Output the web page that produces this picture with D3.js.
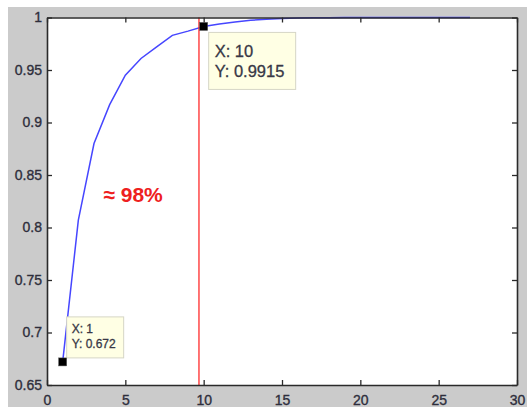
<!DOCTYPE html>
<html>
<head>
<meta charset="utf-8">
<script src="https://cdn.jsdelivr.net/npm/d3@7"></script>
<style>
  html, body { margin: 0; padding: 0; background: #fff; }
  svg { display: block; }
  text { font-family: "Liberation Sans", Arial, sans-serif; }
</style>
</head>
<body>
<script>
// Number of retained components vs. cumulative explained variance
const components = [1, 2, 3, 4, 5, 6, 7, 8, 9, 10, 11, 12, 13, 14, 15, 16, 17, 18, 19, 20, 21, 22, 23, 24, 25, 26, 27];
const cumulative = [0.672, 0.807, 0.880, 0.917, 0.945, 0.961, 0.972, 0.983, 0.987, 0.9915,
                    0.9938, 0.9958, 0.9973, 0.9984, 0.9991, 0.9995, 0.9997, 0.9998, 0.9999, 0.9999,
                    1, 1, 1, 1, 1, 1, 1];
const xTicks = [0, 5, 10, 15, 20, 25, 30];
const yTicks = [0.65, 0.7, 0.75, 0.8, 0.85, 0.9, 0.95, 1];
const cutoff = 9.7;
const tips = [
  { x: 1, y: 0.672, lines: ["X: 1", "Y: 0.672"] },
  { x: 10, y: 0.9915, lines: ["X: 10", "Y: 0.9915"] }
];
const note = "≈ 98%";

const W = 527, H = 407;
const svg = d3.select("body").append("svg").attr("width", W).attr("height", H);

// figure background
svg.append("rect").attr("x", 8).attr("y", 7).attr("width", W - 8).attr("height", H - 7).attr("fill", "#cbcbcb");

const x = d3.scaleLinear().domain([0, 30]).range([47, 517]);
const y = d3.scaleLinear().domain([0.65, 1]).range([385, 17.5]);

// axes area
svg.append("rect").attr("x", x(0)).attr("y", y(1)).attr("width", x(30) - x(0)).attr("height", y(0.65) - y(1)).attr("fill", "#fff");

// curve
const line = d3.line().x((d, i) => x(components[i])).y(d => y(d));
svg.append("path").datum(cumulative).attr("d", line)
  .attr("fill", "none").attr("stroke", "#4646ff").attr("stroke-width", 1.5);

// cutoff marker
svg.append("line").attr("x1", x(cutoff)).attr("x2", x(cutoff)).attr("y1", y(1)).attr("y2", y(0.65))
  .attr("stroke", "#ff2a2a").attr("stroke-width", 1.3);

// axes with inward ticks on all four sides
const tickColor = "#2a2a2a";
const fmtY = d => d3.format("")(+d.toFixed(2));
const axBottom = svg.append("g").attr("transform", `translate(0,${y(0.65)})`)
  .call(d3.axisBottom(x).tickValues(xTicks).tickSizeInner(-5).tickSizeOuter(0).tickPadding(10).tickFormat(d3.format("d")));
const axTop = svg.append("g").attr("transform", `translate(0,${y(1)})`)
  .call(d3.axisTop(x).tickValues(xTicks).tickSizeInner(-5).tickSizeOuter(0).tickFormat(""));
const axLeft = svg.append("g").attr("transform", `translate(${x(0)},0)`)
  .call(d3.axisLeft(y).tickValues(yTicks).tickSizeInner(-5).tickSizeOuter(0).tickPadding(5).tickFormat(fmtY));
const axRight = svg.append("g").attr("transform", `translate(${x(30)},0)`)
  .call(d3.axisRight(y).tickValues(yTicks).tickSizeInner(-5).tickSizeOuter(0).tickFormat(""));
[axBottom, axTop, axLeft, axRight].forEach(g => {
  g.select(".domain").attr("stroke", tickColor).attr("stroke-width", 1.6);
  g.selectAll(".tick line").attr("stroke", tickColor).attr("stroke-width", 1.3);
  g.selectAll(".tick text").attr("fill", "#2e2e3c").attr("font-size", 14)
    .attr("stroke", "#2e2e3c").attr("stroke-width", 0.35)
    .attr("font-family", "'Liberation Sans', Arial, sans-serif");
});

// annotation
svg.append("text").attr("x", x(3.6)).attr("y", y(0.8245)).attr("fill", "#ee2020")
  .attr("font-size", 21).attr("font-weight", "bold").text(note);

// data tips
const tipStyle = [
  { dx: 4, dy: -45, w: 57, h: 41, fs: 12, lh: 15, tx: 5, ty: 16 },
  { dx: 5, dy: 6, w: 87, h: 57, fs: 16.5, lh: 20, tx: 6, ty: 25 }
];
tips.forEach((t, i) => {
  const s = tipStyle[i];
  const px = x(t.x), py = y(t.y);
  const g = svg.append("g");
  g.append("rect").attr("x", px + s.dx).attr("y", py + s.dy).attr("width", s.w).attr("height", s.h)
    .attr("fill", "#ffffe4").attr("stroke", "#d6d6c6").attr("stroke-width", 1);
  t.lines.forEach((l, k) => {
    g.append("text").attr("x", px + s.dx + s.tx).attr("y", py + s.dy + s.ty + k * s.lh)
      .attr("font-size", s.fs).attr("fill", "#383846")
      .attr("stroke", "#383846").attr("stroke-width", 0.3).text(l);
  });
  svg.append("rect").attr("x", px - 4).attr("y", py - 4).attr("width", 8).attr("height", 8)
    .attr("fill", "#000").attr("stroke", "#555").attr("stroke-width", 0.5);
});
</script>
</body>
</html>
